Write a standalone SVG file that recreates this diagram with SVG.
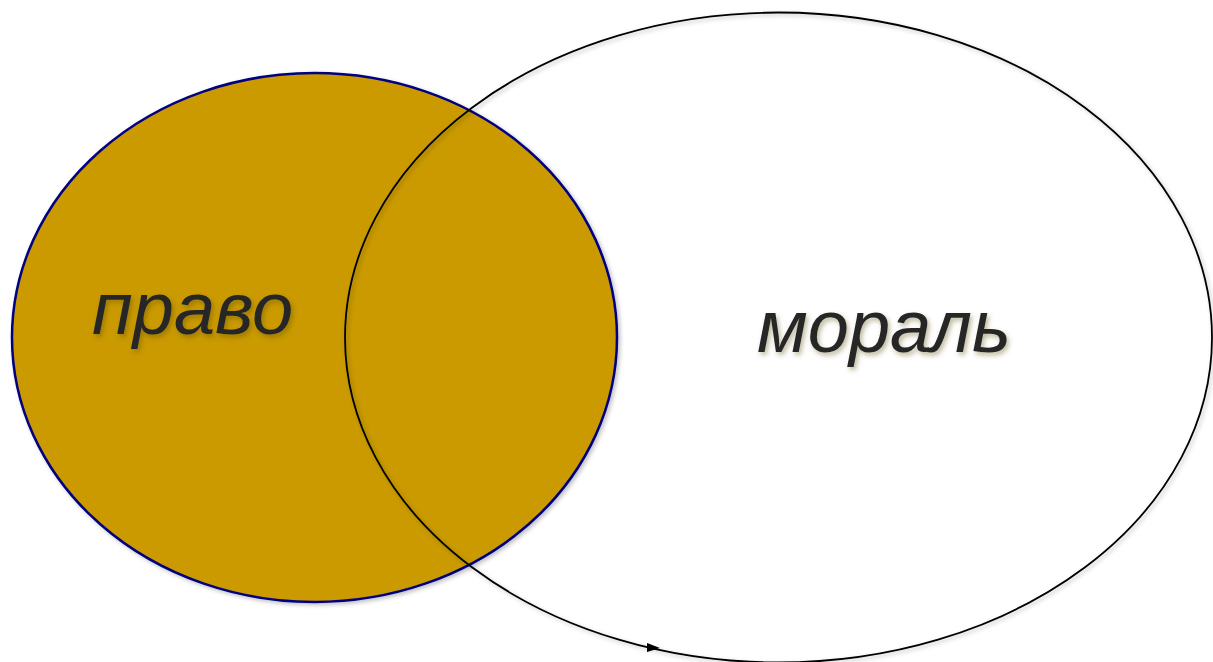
<svg xmlns="http://www.w3.org/2000/svg" width="1213" height="662" viewBox="0 0 1213 662">
  <defs>
    <filter id="shadow" x="-10%" y="-10%" width="120%" height="120%">
      <feDropShadow dx="2" dy="2" stdDeviation="2" flood-color="#000" flood-opacity="0.25"/>
    </filter>
    <filter id="tshadow" x="-10%" y="-20%" width="120%" height="140%">
      <feDropShadow dx="2" dy="3" stdDeviation="2.5" flood-color="#5a4a10" flood-opacity="0.4"/>
    </filter>
    <style>
      .lbl { font-family: "Liberation Sans", Arial, sans-serif; font-style: italic; font-size: 74px; fill: #282828; filter: url(#tshadow); }
    </style>
  </defs>
  <rect width="1213" height="662" fill="#ffffff"/>
  <g id="pravo">
    <ellipse cx="314.5" cy="337.5" rx="302.5" ry="264.5" fill="#CA9A00" stroke="#000080" stroke-width="2.5" filter="url(#shadow)"/>
    <text class="lbl" x="92" y="334">право</text>
  </g>
  <g id="moral">
    <ellipse cx="778.5" cy="337.5" rx="433.5" ry="325" fill="none" stroke="#000" stroke-width="1.8" filter="url(#shadow)"/>
    <text class="lbl" x="757" y="352" font-size="75">мораль</text>
  </g>
  <g id="connectors">
    <path d="M647,643 L660,648 L647,652 Z" fill="#000"/>
  </g>
</svg>
